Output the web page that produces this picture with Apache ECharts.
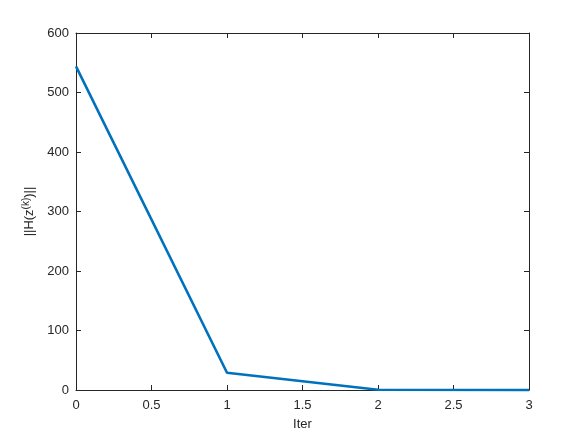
<!DOCTYPE html>
<html>
<head>
<meta charset="utf-8">
<script src="https://cdn.jsdelivr.net/npm/echarts@6/dist/echarts.min.js"></script>
<style>
    html, body { margin: 0; padding: 0; background: #fff; }
    #chart { width: 584px; height: 438px; }
</style>
</head>
<body>
<div id="chart"></div>
<script>
    // values
    var iterValues = [0, 1, 2, 3];
    var normValues = [544, 29, 0.5, 0.1];
    var xTicks = [0, 0.5, 1, 1.5, 2, 2.5, 3];
    var yTicks = [0, 100, 200, 300, 400, 500, 600];

    var axisColor = '#262626';
    var font = 'Liberation Sans, Arial, sans-serif';

    var points = iterValues.map(function (x, i) { return [x, normValues[i]]; });

    var chart = echarts.init(document.getElementById('chart'));

    var baseX = {
        type: 'value',
        min: xTicks[0],
        max: xTicks[xTicks.length - 1],
        interval: 0.5,
        axisLine: { show: true, onZero: false, lineStyle: { color: axisColor, width: 1 } },
        axisTick: { show: true, inside: true, length: 5, lineStyle: { color: axisColor } },
        splitLine: { show: false }
    };
    var baseY = {
        type: 'value',
        min: yTicks[0],
        max: yTicks[yTicks.length - 1],
        interval: 100,
        axisLine: { show: true, onZero: false, lineStyle: { color: axisColor, width: 1 } },
        axisTick: { show: true, inside: true, length: 5, lineStyle: { color: axisColor } },
        splitLine: { show: false }
    };

    chart.setOption({
        backgroundColor: '#fff',
        animation: false,
        grid: { left: 76, right: 55, top: 33, bottom: 48 },
        xAxis: [
            Object.assign({}, baseX, {
                position: 'bottom',
                name: 'Iter',
                nameLocation: 'middle',
                nameGap: 28,
                nameTextStyle: { color: axisColor, fontSize: 13, fontFamily: font },
                axisLabel: { color: axisColor, fontSize: 13, fontFamily: font, margin: 9,
                    formatter: function (v) { return String(v); } }
            }),
            Object.assign({}, baseX, { position: 'top', axisLabel: { show: false } })
        ],
        yAxis: [
            Object.assign({}, baseY, {
                position: 'left',
                name: '||H(z{sup|(k)})||',
                nameLocation: 'middle',
                nameGap: 36,
                nameTextStyle: {
                    color: axisColor, fontSize: 13, fontFamily: font,
                    rich: { sup: { fontSize: 10, color: axisColor, fontFamily: font, verticalAlign: 'bottom', padding: [0, 0, 7, 0] } }
                },
                axisLabel: { color: axisColor, fontSize: 13, fontFamily: font, margin: 7 }
            }),
            Object.assign({}, baseY, { position: 'right', axisLabel: { show: false } })
        ],
        series: [{
            type: 'line',
            data: points,
            symbol: 'none',
            lineStyle: { color: '#0072BD', width: 2.6 },
            clip: false
        }]
    });
</script>
</body>
</html>
